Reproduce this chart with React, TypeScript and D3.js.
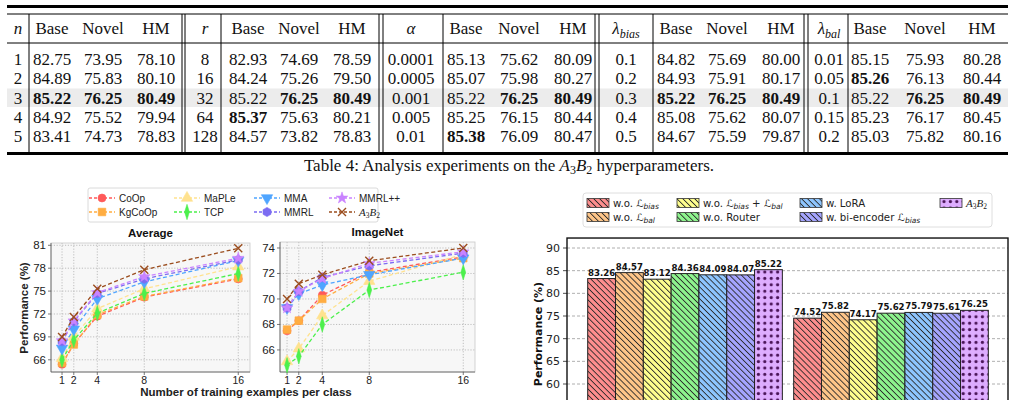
import React from 'react';
import * as d3 from 'd3';

const W = 1016;
const H = 400;

// ---------- Table 4 values ----------
const metricHeaders = ['Base', 'Novel', 'HM'];
const nKeys = ['1', '2', '3', '4', '5'];
const nRows = [[82.75, 73.95, 78.10], [84.89, 75.83, 80.10], [85.22, 76.25, 80.49], [84.92, 75.52, 79.94], [83.41, 74.73, 78.83]];
const rKeys = ['8', '16', '32', '64', '128'];
const rRows = [[82.93, 74.69, 78.59], [84.24, 75.26, 79.50], [85.22, 76.25, 80.49], [85.37, 75.63, 80.21], [84.57, 73.82, 78.83]];
const alphaKeys = ['0.0001', '0.0005', '0.001', '0.005', '0.01'];
const alphaRows = [[85.13, 75.62, 80.09], [85.07, 75.98, 80.27], [85.22, 76.25, 80.49], [85.25, 76.15, 80.44], [85.38, 76.09, 80.47]];
const biasKeys = ['0.1', '0.2', '0.3', '0.4', '0.5'];
const biasRows = [[84.82, 75.69, 80.00], [84.93, 75.91, 80.17], [85.22, 76.25, 80.49], [85.08, 75.62, 80.07], [84.67, 75.59, 79.87]];
const balKeys = ['0.01', '0.05', '0.1', '0.15', '0.2'];
const balRows = [[85.15, 75.93, 80.28], [85.26, 76.13, 80.44], [85.22, 76.25, 80.49], [85.23, 76.17, 80.45], [85.03, 75.82, 80.16]];
const highlightRow = 2;

// ---------- few-shot curves ----------
const shots = [1, 2, 4, 8, 16];
const methodNames = ['CoOp', 'KgCoOp', 'MaPLe', 'TCP', 'MMA', 'MMRL', 'MMRL++', 'A3B2'];
const avgCoOp = [65.4, 68.1, 71.7, 74.2, 76.6];
const avgKgCoOp = [65.6, 68.0, 71.9, 74.3, 76.7];
const avgMaPLe = [66.2, 69.0, 72.7, 75.3, 78.2];
const avgTCP = [66.0, 68.6, 72.1, 74.7, 77.3];
const avgMMA = [67.5, 70.0, 74.0, 76.2, 79.0];
const avgMMRL = [68.4, 71.0, 74.7, 76.6, 79.1];
const avgMMRLpp = [68.5, 71.1, 74.8, 76.9, 79.3];
const avgA3B2 = [69.0, 71.6, 75.3, 77.8, 80.6];
const inetCoOp = [67.5, 68.3, 70.3, 72.1, 73.3];
const inetKgCoOp = [67.6, 68.3, 70.0, 72.0, 73.2];
const inetMaPLe = [65.1, 66.1, 68.7, 71.4, 73.5];
const inetTCP = [64.8, 65.5, 68.0, 70.7, 72.1];
const inetMMA = [69.3, 70.4, 71.1, 71.9, 73.2];
const inetMMRL = [69.3, 70.6, 71.7, 72.6, 73.6];
const inetMMRLpp = [69.3, 70.6, 71.6, 72.8, 73.7];
const inetA3B2 = [70.0, 71.2, 71.9, 73.0, 74.0];
const avgTicks = [66, 69, 72, 75, 78, 81];
const inetTicks = [66, 68, 70, 72, 74];

// ---------- ablation bars ----------
const variantKeys = ['noBias', 'noBal', 'noBoth', 'noRouter', 'lora', 'biEnc', 'ours'];
const baseScores = [83.26, 84.57, 83.12, 84.36, 84.09, 84.07, 85.22];
const novelScores = [74.52, 75.82, 74.17, 75.62, 75.79, 75.61, 76.25];
const barTicks = [60, 65, 70, 75, 80, 85, 90];

// ---------- styles ----------
const SERIF = '"Liberation Serif", "Times New Roman", serif';
const SANS = '"Liberation Sans", Arial, sans-serif';
const DJV = '"DejaVu Sans", sans-serif';

const methodColors = ['#ff5a5a', '#ffad42', '#ffe28f', '#4cf04c', '#4fa5ff', '#7c6cf2', '#c983ff', '#9b4d1e'];
const methodMarkers = ['circle', 'square', 'triUp', 'diamond', 'triDown', 'hexagon', 'star', 'x'];
const barColors = ['#ff8585', '#ffc27f', '#ffff85', '#85f585', '#85c2ff', '#9e9eff', '#dca6ff'];

const hexPath = (() => {
  const r = 4.6;
  const pts = d3.range(6).map((i) => {
    const a = (Math.PI / 3) * i + Math.PI / 6;
    return [r * Math.cos(a), r * Math.sin(a)] as [number, number];
  });
  return d3.line()(pts) + 'Z';
})();

function Marker({ kind, x, y, color }: { kind: string; x: number; y: number; color: string }) {
  const t = `translate(${x},${y})`;
  if (kind === 'x') {
    const a = 4;
    return (
      <path d={`M${-a},${-a}L${a},${a}M${-a},${a}L${a},${-a}`} transform={t} stroke={color} strokeWidth={1.4} fill="none" />
    );
  }
  let d = '';
  let extra = '';
  if (kind === 'circle') d = d3.symbol(d3.symbolCircle, 50)() || '';
  if (kind === 'square') d = d3.symbol(d3.symbolSquare, 58)() || '';
  if (kind === 'triUp') d = d3.symbol(d3.symbolTriangle, 56)() || '';
  if (kind === 'triDown') { d = d3.symbol(d3.symbolTriangle, 56)() || ''; extra = ' rotate(180)'; }
  if (kind === 'diamond') { d = d3.symbol(d3.symbolDiamond, 52)() || ''; extra = ' scale(0.62,1.15)'; }
  if (kind === 'hexagon') d = hexPath;
  if (kind === 'star') d = d3.symbol(d3.symbolStar, 42)() || '';
  return <path d={d} transform={t + extra} fill={color} stroke={color} strokeWidth={0.6} />;
}

function A3B2Label({ x, y, size, anchor }: { x: number; y: number; size: number; anchor?: string }) {
  const s = size * 0.68;
  return (
    <text x={x} y={y} fontFamily={SERIF} fontSize={size} textAnchor={anchor || 'start'} fill="#222">
      <tspan fontStyle="italic">A</tspan>
      <tspan fontSize={s} dy={size * 0.22}>3</tspan>
      <tspan fontStyle="italic" dy={-size * 0.22}>B</tspan>
      <tspan fontSize={s} dy={size * 0.22}>2</tspan>
    </text>
  );
}

// ---------- Table ----------
type Group = { keys: string[]; rows: number[][]; keyX: number; barX: number; cols: number[]; dbl: number[] | null; head: React.ReactNode };

function Table() {
  const rowY = d3.scaleLinear().domain([0, 4]).range([59, 136]);
  const headY = 28;
  const fs = 17;
  const groups: Group[] = [
    { keys: nKeys, rows: nRows, keyX: 18, barX: 29, cols: [52, 103, 156], dbl: [182, 185],
      head: <tspan fontStyle="italic">n</tspan> },
    { keys: rKeys, rows: rRows, keyX: 205, barX: 221, cols: [248, 299, 352], dbl: [379, 383],
      head: <tspan fontStyle="italic">r</tspan> },
    { keys: alphaKeys, rows: alphaRows, keyX: 411, barX: 443, cols: [466, 519, 573], dbl: [595, 599],
      head: <tspan fontStyle="italic">α</tspan> },
    { keys: biasKeys, rows: biasRows, keyX: 626, barX: 653, cols: [676, 727, 781], dbl: [804, 808],
      head: <><tspan fontStyle="italic">λ</tspan><tspan fontStyle="italic" fontSize={12} dy={4}>bias</tspan></> },
    { keys: balKeys, rows: balRows, keyX: 829, barX: 848, cols: [870, 925, 982], dbl: null,
      head: <><tspan fontStyle="italic">λ</tspan><tspan fontStyle="italic" fontSize={12} dy={4}>bal</tspan></> },
  ];
  const x0 = 7, x1 = 1008;
  return (
    <g fontFamily={SERIF} fontSize={fs} fill="#111">
      <rect x={x0} y={rowY(highlightRow) - 9} width={x1 - x0} height={18.5} fill="#ececec" />
      <rect x={x0} y={5} width={x1 - x0} height={3} fill="#000" />
      <line x1={x0} x2={x1} y1={14} y2={14} stroke="#000" strokeWidth={1} />
      <line x1={x0} x2={x1} y1={43} y2={43} stroke="#000" strokeWidth={1} />
      <rect x={x0} y={152} width={x1 - x0} height={3} fill="#000" />
      {groups.map((g, gi) => {
        const best = [0, 1, 2].map((c) => d3.max(g.rows, (r) => r[c]));
        return (
          <g key={gi}>
            <line x1={g.barX} x2={g.barX} y1={14} y2={152} stroke="#000" strokeWidth={1} />
            {g.dbl && g.dbl.map((dx, k) => (
              <line key={k} x1={dx} x2={dx} y1={14} y2={152} stroke="#000" strokeWidth={1} />
            ))}
            <text x={g.keyX} y={headY + 6} textAnchor="middle">{g.head}</text>
            {metricHeaders.map((h, c) => (
              <text key={h} x={g.cols[c]} y={headY + 6} textAnchor="middle">{h}</text>
            ))}
            {g.rows.map((r, ri) => (
              <g key={ri}>
                <text x={g.keyX} y={rowY(ri) + 6} textAnchor="middle">{g.keys[ri]}</text>
                {r.map((v, c) => (
                  <text key={c} x={g.cols[c]} y={rowY(ri) + 6} textAnchor="middle"
                    fontWeight={v === best[c] ? 'bold' : 'normal'}>{v.toFixed(2)}</text>
                ))}
              </g>
            ))}
          </g>
        );
      })}
      <text x={509} y={171} textAnchor="middle" fontSize={17}>
        <tspan>Table 4: Analysis experiments on the </tspan>
        <tspan fontStyle="italic">A</tspan>
        <tspan fontSize={12} dy={3}>3</tspan>
        <tspan fontStyle="italic" dy={-3}>B</tspan>
        <tspan fontSize={12} dy={3}>2</tspan>
        <tspan dy={-3}> hyperparameters.</tspan>
      </text>
    </g>
  );
}

// ---------- Few-shot panels ----------
function Panel({ title, xRange, xDomain, yRange, yDomain, ticks, series }: {
  title: string; xRange: [number, number]; xDomain: [number, number]; yRange: [number, number];
  yDomain: [number, number]; ticks: number[]; series: number[][];
}) {
  const x = d3.scaleLinear().domain(xDomain).range(xRange);
  const y = d3.scaleLinear().domain(yDomain).range(yRange);
  const line = d3.line<number>().x((_, i) => x(shots[i])).y((v) => y(v));
  const [l, r] = xRange;
  const [b, t] = yRange;
  return (
    <g fontFamily={SANS}>
      <rect x={l} y={t} width={r - l} height={b - t} fill="#f7f7f7" />
      {shots.map((s) => (
        <line key={s} x1={x(s)} x2={x(s)} y1={t} y2={b} stroke="#b0b0b0" strokeWidth={0.8} strokeDasharray="1.2,1.6" />
      ))}
      {ticks.map((v) => (
        <line key={v} x1={l} x2={r} y1={y(v)} y2={y(v)} stroke="#b0b0b0" strokeWidth={0.8} strokeDasharray="1.2,1.6" />
      ))}
      <rect x={l} y={t} width={r - l} height={b - t} fill="none" stroke="#c8c8c8" strokeWidth={0.8} />
      <line x1={l} x2={l} y1={t} y2={b} stroke="#555" strokeWidth={0.8} />
      <line x1={l} x2={r} y1={b} y2={b} stroke="#555" strokeWidth={0.8} />
      {ticks.map((v) => (
        <g key={v}>
          <line x1={l - 3} x2={l} y1={y(v)} y2={y(v)} stroke="#555" strokeWidth={0.8} />
          <text x={l - 5} y={y(v) + 4} textAnchor="end" fontSize={11.5} fill="#222">{v}</text>
        </g>
      ))}
      {shots.map((s) => (
        <g key={s}>
          <line x1={x(s)} x2={x(s)} y1={b} y2={b + 3} stroke="#555" strokeWidth={0.8} />
          <text x={x(s)} y={b + 11.5} textAnchor="middle" fontSize={10.5} fill="#222">{s}</text>
        </g>
      ))}
      {series.map((vals, si) => (
        <g key={si}>
          <path d={line(vals) || ''} fill="none" stroke={methodColors[si]} strokeWidth={1.3} strokeDasharray="4,2.5" />
          {vals.map((v, i) => (
            <Marker key={i} kind={methodMarkers[si]} x={x(shots[i])} y={y(v)} color={methodColors[si]} />
          ))}
        </g>
      ))}
      <text x={(l + r) / 2} y={t - 6} textAnchor="middle" fontSize={11.5} fontWeight="bold" fill="#111">{title}</text>
    </g>
  );
}

function FewShot() {
  const legendCols = [102, 187, 267, 342];
  const legendRows = [198, 212];
  return (
    <g>
      <rect x={88} y={188} width={290} height={34} rx={2} fill="#fff" stroke="#d0d0d0" strokeWidth={0.8} />
      {methodNames.map((name, i) => {
        const cx = legendCols[Math.floor(i / 2)];
        const cy = legendRows[i % 2];
        return (
          <g key={name}>
            <line x1={cx - 13} x2={cx + 13} y1={cy} y2={cy} stroke={methodColors[i]} strokeWidth={1.3} strokeDasharray="3,2" />
            <Marker kind={methodMarkers[i]} x={cx} y={cy} color={methodColors[i]} />
            {name === 'A3B2'
              ? <A3B2Label x={cx + 17} y={cy + 4} size={11} />
              : <text x={cx + 17} y={cy + 3.5} fontFamily={SANS} fontSize={10} fill="#222">{name}</text>}
          </g>
        );
      })}
      <Panel title="Average" xRange={[51, 250]} xDomain={[0.06, 17]} yRange={[372, 243]} yDomain={[64.4, 81.3]}
        ticks={avgTicks} series={[avgCoOp, avgKgCoOp, avgMaPLe, avgTCP, avgMMA, avgMMRL, avgMMRLpp, avgA3B2]} />
      <Panel title="ImageNet" xRange={[280, 475]} xDomain={[0.4, 17]} yRange={[372, 242]} yDomain={[64.27, 74.47]}
        ticks={inetTicks} series={[inetCoOp, inetKgCoOp, inetMaPLe, inetTCP, inetMMA, inetMMRL, inetMMRLpp, inetA3B2]} />
      <text x={24} y={308} transform="rotate(-90,24,308)" textAnchor="middle" dy={4} fontFamily={SANS}
        fontSize={11.5} fontWeight="bold" fill="#222">Performance (%)</text>
      <text x={246} y={396} textAnchor="middle" fontFamily={SANS} fontSize={11.5} fontWeight="bold" fill="#222">
        Number of training examples per class
      </text>
    </g>
  );
}

// ---------- Ablation bars ----------
type Part = string | [string];

function LossLabel({ x, y, parts }: { x: number; y: number; parts: Part[] }) {
  // subscripts shift down; the following piece shifts back up
  const spans: React.ReactNode[] = [];
  let pendingUp = 0;
  parts.forEach((p, i) => {
    if (typeof p === 'string') {
      spans.push(<tspan key={`s${i}`} dy={pendingUp}>{p}</tspan>);
      pendingUp = 0;
    } else {
      spans.push(<tspan key={`l${i}`} fontStyle="italic" dy={pendingUp}>ℒ</tspan>);
      spans.push(<tspan key={`b${i}`} fontStyle="italic" fontSize={7.5} dy={2.5}>{p[0]}</tspan>);
      pendingUp = -2.5;
    }
  });
  return (
    <text x={x} y={y} fontFamily={DJV} fontSize={10.2} fill="#222">{spans}</text>
  );
}

function Ablation() {
  const x = d3.scaleLinear().domain([-0.573, 1.568]).range([567, 1008]);
  const y = d3.scaleLinear().domain([60, 90]).range([384, 248]);
  const barW = 0.135;
  const groupsVals = [baseScores, novelScores];
  const left = 567, right = 1008, top = y(92.2), bottom = y(50);
  const fillFor = (i: number) => (i === 6 ? 'url(#dots)' : `url(#hatch${i})`);
  const legendItems: { i: number; col: number; row: number; parts: Part[] }[] = [
    { i: 0, col: 0, row: 0, parts: ['w.o. ', ['bias']] },
    { i: 1, col: 0, row: 1, parts: ['w.o. ', ['bal']] },
    { i: 2, col: 1, row: 0, parts: ['w.o. ', ['bias'], ' + ', ['bal']] },
    { i: 3, col: 1, row: 1, parts: ['w.o. Router'] },
    { i: 4, col: 2, row: 0, parts: ['w. LoRA'] },
    { i: 5, col: 2, row: 1, parts: ['w. bi-encoder ', ['bias']] },
    { i: 6, col: 3, row: 0, parts: [] },
  ];
  const legCols = [587, 677, 800, 940];
  const legRows = [203, 217];
  return (
    <g>
      <defs>
        {barColors.slice(0, 6).map((c, i) => (
          <pattern key={i} id={`hatch${i}`} patternUnits="userSpaceOnUse" width={4.2} height={4.2}
            patternTransform="rotate(-45)">
            <rect width={4.2} height={4.2} fill={c} fillOpacity={0.92} />
            <line x1={2.1} x2={2.1} y1={0} y2={4.2} stroke="#2a2a2a" strokeWidth={0.9} />
          </pattern>
        ))}
        <pattern id="dots" patternUnits="userSpaceOnUse" width={6.4} height={6.4}>
          <rect width={6.4} height={6.4} fill={barColors[6]} fillOpacity={0.92} />
          <circle cx={3.2} cy={3.2} r={1.6} fill="#4a1458" />
        </pattern>
      </defs>
      {barTicks.map((v) => (
        <g key={v}>
          <line x1={left} x2={right} y1={y(v)} y2={y(v)} stroke="#9a9a9a" strokeWidth={0.8} strokeDasharray="3,2" />
          <line x1={left - 4} x2={left} y1={y(v)} y2={y(v)} stroke="#222" strokeWidth={0.8} />
          <text x={left - 7} y={y(v) + 4} textAnchor="end" fontFamily={DJV} fontSize={11} fill="#222">{v}</text>
        </g>
      ))}
      {groupsVals.map((vals, g) => vals.map((v, i) => {
        const bx = x(g + (i - 3) * barW - barW / 2);
        const bw = x(barW) - x(0);
        return (
          <g key={`${g}-${i}`}>
            <rect x={bx} y={y(v)} width={bw} height={bottom - y(v)} fill={fillFor(i)} stroke="#222" strokeWidth={1} />
            <text x={bx + bw / 2} y={y(v) - 3} textAnchor="middle" fontFamily={DJV} fontSize={8.6}
              fontWeight="bold" fill="#111">{v.toFixed(2)}</text>
          </g>
        );
      }))}
      <rect x={left} y={top} width={right - left} height={bottom - top} fill="none" stroke="#111" strokeWidth={1.4} />
      <text x={538} y={334} transform="rotate(-90,538,334)" textAnchor="middle" dy={4} fontFamily={DJV}
        fontSize={11} fontWeight="bold" fill="#111">Performance (%)</text>
      <rect x={583} y={193} width={409} height={34} rx={3} fill="#fff" stroke="#d6d6d6" strokeWidth={0.8} />
      {legendItems.map((it) => {
        const sx = legCols[it.col];
        const sy = legRows[it.row];
        return (
          <g key={variantKeys[it.i]}>
            <rect x={sx} y={sy - 4.5} width={22} height={9} fill={fillFor(it.i)} stroke="#333" strokeWidth={0.8} />
            {it.i === 6
              ? <A3B2Label x={sx + 26} y={sy + 4} size={11} />
              : <LossLabel x={sx + 26} y={sy + 3.5} parts={it.parts} />}
          </g>
        );
      })}
    </g>
  );
}

export default function App() {
  return (
    <svg width={W} height={H} viewBox={`0 0 ${W} ${H}`}
      style={{ position: 'absolute', left: 0, top: 0, background: '#fff', display: 'block' }}>
      <rect width={W} height={H} fill="#fff" />
      <Table />
      <FewShot />
      <Ablation />
    </svg>
  );
}
